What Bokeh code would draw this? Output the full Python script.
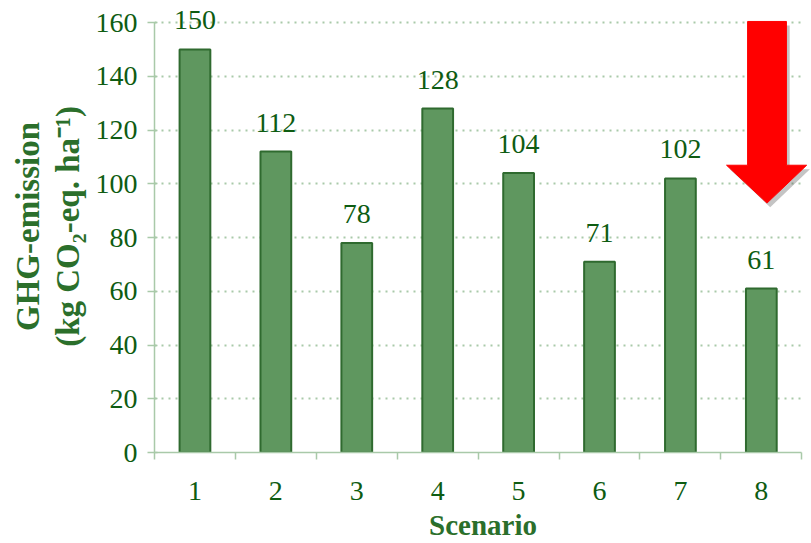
from bokeh.plotting import figure
from bokeh.models import Range1d, FixedTicker, ColumnDataSource
from bokeh.core.properties import value
from bokeh.embed import file_html
from bokeh.resources import INLINE

# ---- data ----
scenarios = ["1", "2", "3", "4", "5", "6", "7", "8"]
emissions = [150, 112, 78, 128, 104, 71, 102, 61]
y_ticks = [0, 20, 40, 60, 80, 100, 120, 140, 160]

FONT = "Liberation Serif"
TXT = "#0e5c12"
TITLE_C = "#2b6f2b"
AXIS_C = "#a9c9a9"
BAR_FILL = "#5f975f"
BAR_LINE = "#2f6a2f"

xs = [i + 1 for i in range(len(scenarios))]

p = figure(width=811, height=543, output_backend="svg", toolbar_location=None,
           x_range=Range1d(0.5, 8.62), y_range=Range1d(0, 168.2),
           min_border_left=154, min_border_right=0, min_border_top=0, min_border_bottom=90)
p.outline_line_color = None
p.background_fill_color = "white"
p.border_fill_color = "white"

src = ColumnDataSource(dict(x=xs, top=emissions, lab=[str(v) for v in emissions]))
p.vbar(x="x", top="top", bottom=0, width=0.38, source=src,
       fill_color=BAR_FILL, line_color=BAR_LINE, line_width=2)

p.text(x="x", y="top", text="lab", source=src, text_align="center",
       text_baseline="alphabetic", y_offset=-29,
       text_font=value(FONT), text_font_size="28px", text_color=TXT)

# ---- red arrow annotation pointing down at the last scenario ----
c = xs[-1]
ax = [c - 0.17, c + 0.31, c + 0.31, c + 0.56, c + 0.07, c - 0.43, c - 0.17]
ay = [160.4, 160.4, 106.9, 106.9, 92.8, 106.9, 106.9]
p.patch([v + 0.04 for v in ax], [v - 1.5 for v in ay], fill_color="#555555",
        fill_alpha=0.35, line_color=None)
p.patch(ax, ay, fill_color="#ff0000", line_color="#ff0000", line_width=1)

# ---- axes ----
xa = p.xaxis[0]
xa.ticker = FixedTicker(ticks=xs, minor_ticks=[i + 0.5 for i in range(0, 9)])
xa.major_label_overrides = {x: s for x, s in zip(xs, scenarios)}
xa.bounds = (0.5, 8.5)
xa.axis_line_color = AXIS_C
xa.axis_line_width = 1.5
xa.major_tick_out = 0
xa.major_tick_in = 0
xa.minor_tick_out = 7
xa.minor_tick_in = 0
xa.minor_tick_line_color = AXIS_C
xa.minor_tick_line_width = 1.5
xa.major_label_standoff = 22
xa.major_label_text_font = FONT
xa.major_label_text_font_size = "28px"
xa.major_label_text_color = TXT
xa.axis_label = "Scenario"
xa.axis_label_text_font = FONT
xa.axis_label_text_font_style = "bold"
xa.axis_label_text_font_size = "29px"
xa.axis_label_text_color = TITLE_C
xa.axis_label_standoff = 6

ya = p.yaxis[0]
ya.ticker = FixedTicker(ticks=y_ticks, minor_ticks=[])
ya.bounds = (0, 160)
ya.axis_line_color = AXIS_C
ya.axis_line_width = 1.5
ya.major_tick_out = 7
ya.major_tick_in = 3
ya.major_tick_line_color = AXIS_C
ya.major_tick_line_width = 1.5
ya.minor_tick_out = 0
ya.minor_tick_in = 0
ya.major_label_standoff = 10
ya.major_label_text_font = FONT
ya.major_label_text_font_size = "28px"
ya.major_label_text_color = TXT
ya.axis_label = "GHG-emission\n(kg CO\u2082-eq. ha\u207b\u00b9)"
ya.axis_label_text_font = FONT
ya.axis_label_text_font_style = "bold"
ya.axis_label_text_font_size = "33px"
ya.axis_label_text_line_height = 1.1
ya.axis_label_text_color = TITLE_C
ya.axis_label_standoff = 7

p.xgrid.visible = False
g = p.ygrid[0]
g.ticker = FixedTicker(ticks=y_ticks[1:])
g.grid_line_color = "#a9c9a9"
g.grid_line_dash = "2 5"
g.grid_line_width = 2
try:
    g.cross_bounds = (0.5, 8.5)
except Exception:
    pass

open("out.html", "w").write(file_html(p, INLINE))
